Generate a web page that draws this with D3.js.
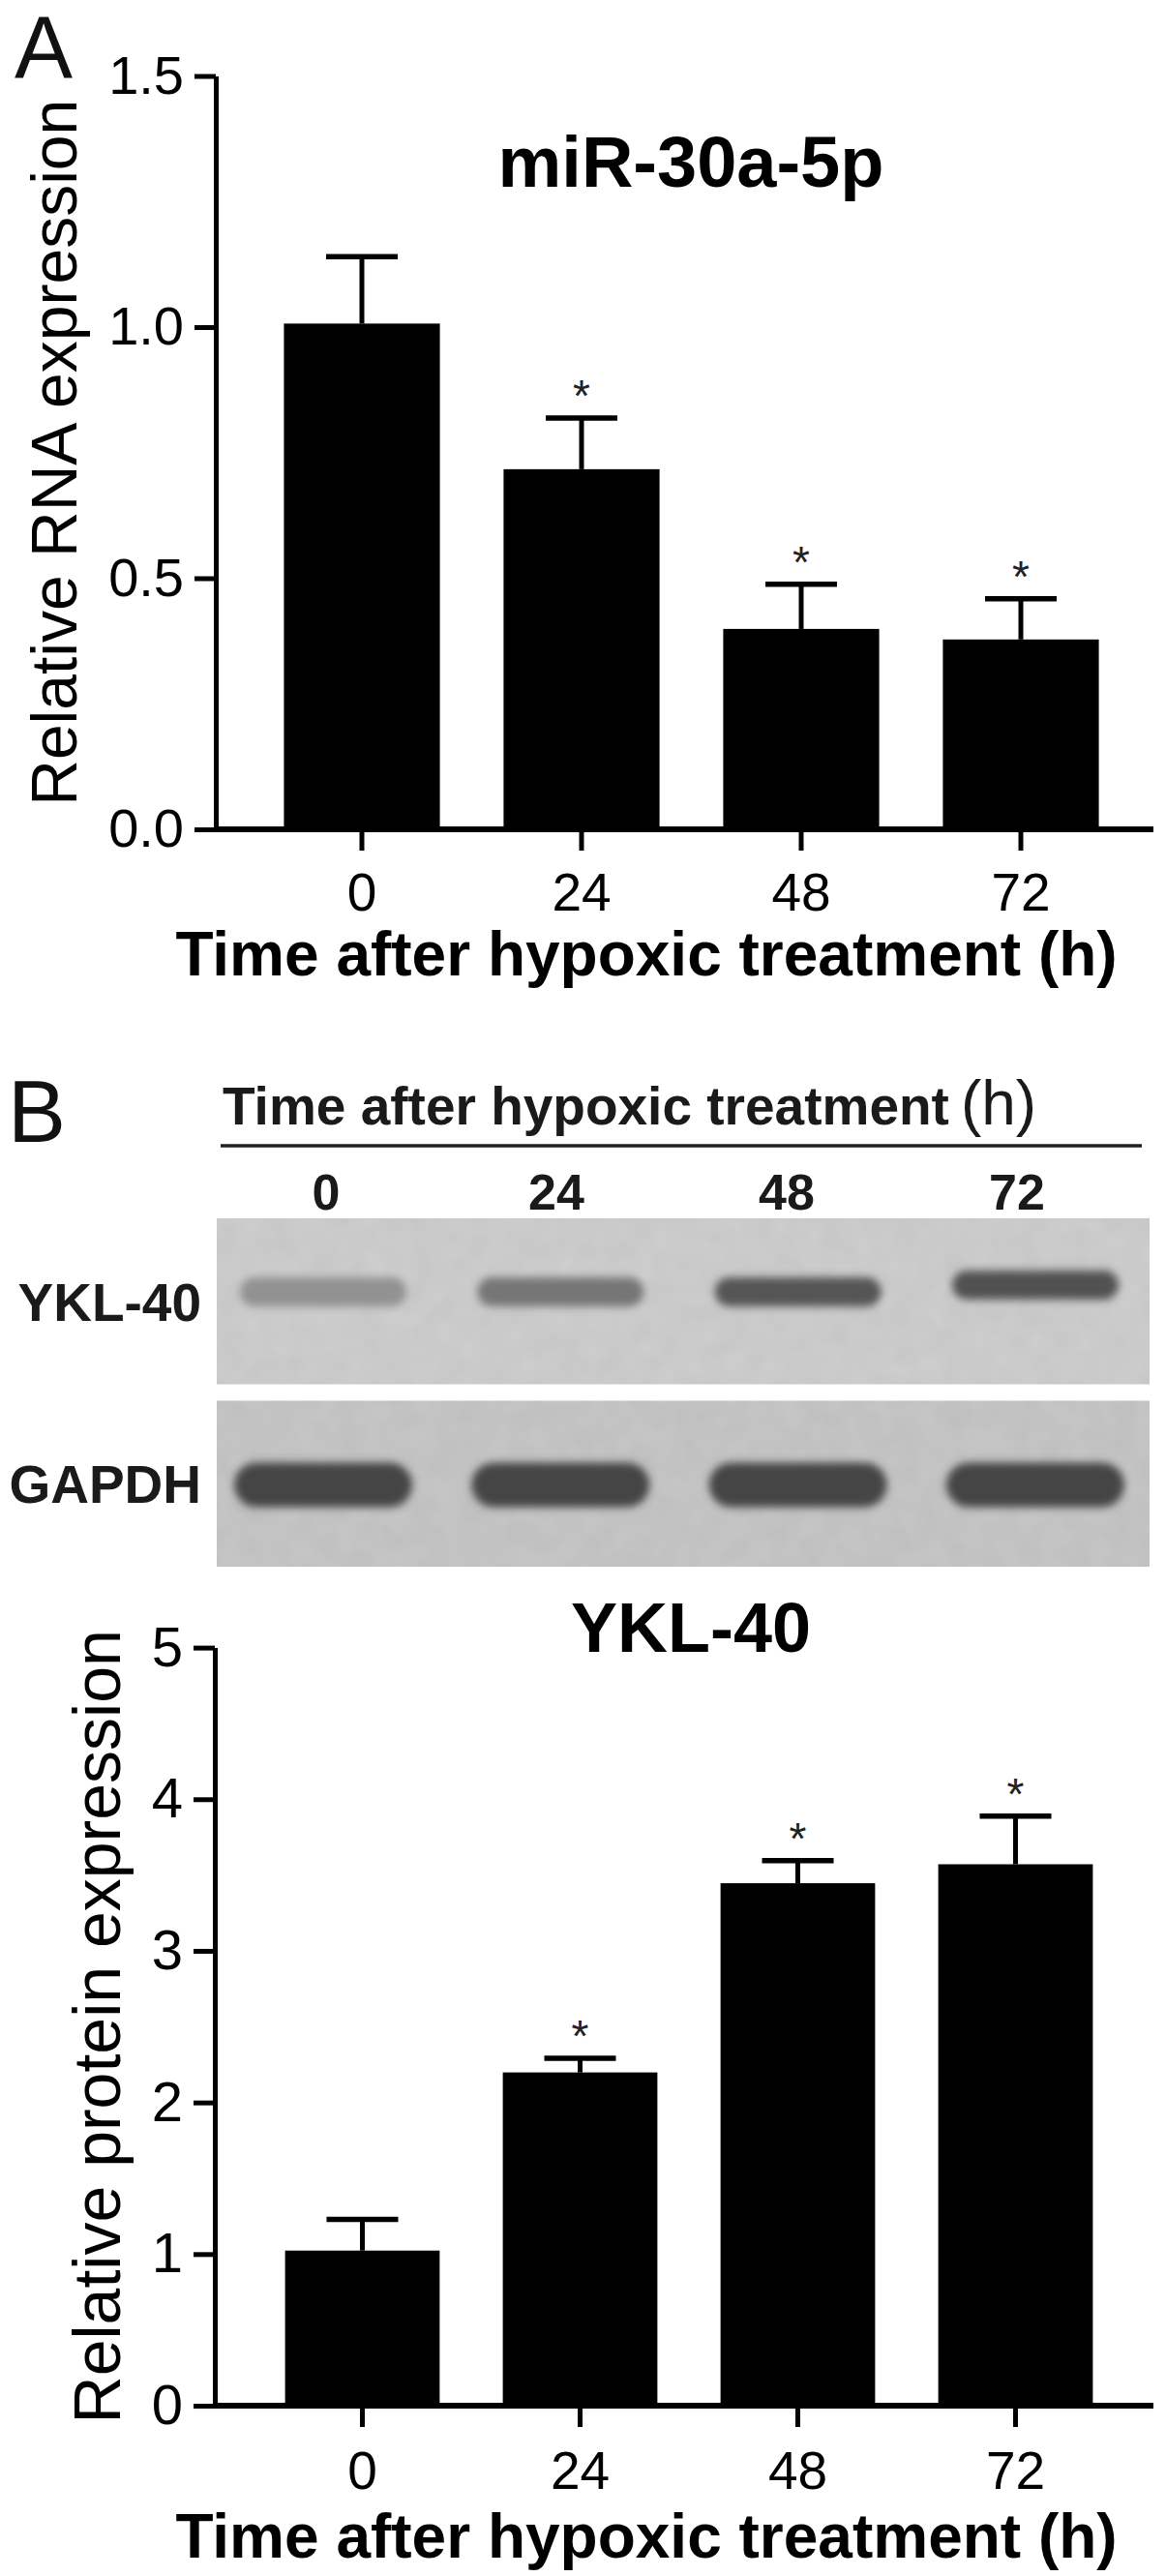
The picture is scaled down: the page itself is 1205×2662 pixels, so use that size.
<!DOCTYPE html>
<html>
<head>
<meta charset="utf-8">
<script src="https://cdn.jsdelivr.net/npm/d3@7"></script>
<style>
  html, body { margin: 0; padding: 0; background: #fff; }
  svg { display: block; }
</style>
</head>
<body>
<script>
// ---------------- DATA ----------------
const timepoints = ["0", "24", "48", "72"];

// Panel A: miR-30a-5p relative RNA expression
const mirMean = [1.007, 0.717, 0.399, 0.378];
const mirSem  = [0.133, 0.102, 0.089, 0.081];
const mirSig  = [false, true, true, true];
const mirTicks = [0, 0.5, 1.0, 1.5];

// Panel B: YKL-40 relative protein expression
const yklMean = [1.023, 2.198, 3.446, 3.571];
const yklSem  = [0.205, 0.093, 0.149, 0.317];
const yklSig  = [false, true, true, true];
const yklTicks = [0, 1, 2, 3, 4, 5];

// Western blot rows and estimated band darkness (0 = membrane, 1 = black)
const blotRows = ["YKL-40", "GAPDH"];
const yklBandDark   = [0.28, 0.42, 0.58, 0.60];
const gapdhBandDark = [0.66, 0.66, 0.66, 0.66];

// ---------------- SETUP ----------------
const W = 1205, H = 2662;
const FONT = "'Liberation Sans', Arial, Helvetica, sans-serif";
const svg = d3.select("body").append("svg")
  .attr("width", W).attr("height", H)
  .attr("font-family", FONT);
svg.append("rect").attr("width", W).attr("height", H).attr("fill", "#fff");

const defs = svg.append("defs");
defs.append("filter").attr("id", "bandBlur")
  .attr("x", "-20%").attr("y", "-60%").attr("width", "140%").attr("height", "220%")
  .append("feGaussianBlur").attr("stdDeviation", 4.5);
const tex = defs.append("filter").attr("id", "membrane")
  .attr("x", 0).attr("y", 0).attr("width", "100%").attr("height", "100%");
tex.append("feTurbulence").attr("type", "fractalNoise").attr("baseFrequency", 0.04)
  .attr("numOctaves", 2).attr("seed", 3).attr("result", "noise");
tex.append("feColorMatrix").attr("in", "noise").attr("type", "matrix")
  .attr("values", "0 0 0 0 0  0 0 0 0 0  0 0 0 0 0  0 0 0 0.10 0").attr("result", "shade");
tex.append("feComposite").attr("in", "shade").attr("in2", "SourceGraphic").attr("operator", "in").attr("result", "s2");
const fm = tex.append("feMerge");
fm.append("feMergeNode").attr("in", "SourceGraphic");
fm.append("feMergeNode").attr("in", "s2");

// ---------------- BAR PANEL ----------------
function barPanel(opt) {
  const g = svg.append("g");
  const x = d3.scaleBand().domain(timepoints).range(opt.xRange)
    .paddingInner(0.29).paddingOuter(0.145);
  const y = d3.scaleLinear().domain([0, opt.yMax]).range(opt.yRange);
  const cx = i => x(timepoints[i]) + x.bandwidth() / 2;

  // bars
  g.selectAll("rect.bar").data(opt.mean).join("rect")
    .attr("class", "bar")
    .attr("x", (d, i) => x(timepoints[i]))
    .attr("width", x.bandwidth())
    .attr("y", d => y(d))
    .attr("height", d => y(0) - y(d))
    .attr("fill", "#000");

  // error bars (upper only)
  const eb = g.selectAll("g.err").data(opt.mean).join("g").attr("class", "err");
  eb.append("line")
    .attr("x1", (d, i) => cx(i)).attr("x2", (d, i) => cx(i))
    .attr("y1", d => y(d)).attr("y2", (d, i) => y(d + opt.sem[i]))
    .attr("stroke", "#000").attr("stroke-width", 5);
  eb.append("line")
    .attr("x1", (d, i) => cx(i) - 37).attr("x2", (d, i) => cx(i) + 37)
    .attr("y1", (d, i) => y(d + opt.sem[i])).attr("y2", (d, i) => y(d + opt.sem[i]))
    .attr("stroke", "#000").attr("stroke-width", 5.5);

  // significance asterisks
  g.selectAll("text.sig").data(opt.mean).join("text")
    .attr("class", "sig")
    .attr("x", (d, i) => cx(i))
    .attr("y", (d, i) => y(d + opt.sem[i]) - 7)
    .attr("text-anchor", "middle")
    .attr("font-size", 46).attr("fill", "#222")
    .text((d, i) => opt.sig[i] ? "*" : "");

  // y axis
  const ya = d3.axisLeft(y).tickValues(opt.ticks).tickFormat(opt.fmt)
    .tickSize(22).tickPadding(11).tickSizeOuter(0);
  const yg = g.append("g").attr("transform", `translate(${opt.axisX},0)`).call(ya);
  yg.select(".domain").attr("stroke", "#000").attr("stroke-width", 5);
  yg.selectAll(".tick line").attr("stroke", "#000").attr("stroke-width", 5);
  yg.selectAll(".tick text").attr("font-size", opt.yTickFont).attr("fill", "#000")
    .attr("font-family", FONT);

  // x axis
  const xa = d3.axisBottom(x).tickSize(22).tickPadding(opt.xTickPad).tickSizeOuter(0);
  const xg = g.append("g").attr("transform", `translate(0,${y(0)})`).call(xa);
  xg.select(".domain").remove();
  xg.selectAll(".tick line").attr("stroke", "#000").attr("stroke-width", 5);
  xg.selectAll(".tick text").attr("font-size", 55).attr("fill", "#000")
    .attr("font-family", FONT);
  g.append("line")
    .attr("x1", opt.axisX).attr("x2", opt.xAxisEnd)
    .attr("y1", y(0)).attr("y2", y(0))
    .attr("stroke", "#000").attr("stroke-width", 6);

  // y label
  const yMid = (opt.yRange[0] + opt.yRange[1]) / 2;
  g.append("text")
    .attr("transform", `translate(${opt.yLabelX},${yMid}) rotate(-90)`)
    .attr("text-anchor", "middle")
    .attr("font-size", opt.yLabelFont).attr("fill", "#000")
    .text(opt.yLabel);

  // title
  g.append("text").attr("x", 714).attr("y", opt.titleY)
    .attr("text-anchor", "middle").attr("font-weight", "bold")
    .attr("font-size", opt.titleFont).attr("fill", "#000")
    .text(opt.title);

  // x title
  g.append("text").attr("x", 668).attr("y", opt.xTitleY)
    .attr("text-anchor", "middle").attr("font-weight", "bold")
    .attr("font-size", 64).attr("fill", "#000")
    .text("Time after hypoxic treatment (h)");
}

// ---------------- PANEL A ----------------
svg.append("text").attr("x", 15).attr("y", 80).attr("font-size", 90)
  .attr("fill", "#111").text("A");

barPanel({
  mean: mirMean, sem: mirSem, sig: mirSig, ticks: mirTicks,
  fmt: d3.format(".1f"), yMax: 1.5,
  xRange: [260.5, 1168.5], yRange: [857, 78.5],
  axisX: 223, xAxisEnd: 1192, xTickPad: 23, yTickFont: 56,
  yLabel: "Relative RNA expression", yLabelX: 79, yLabelFont: 66,
  title: "miR-30a-5p", titleY: 193, titleFont: 74,
  xTitleY: 1008
});

// ---------------- PANEL B: BLOT ----------------
svg.append("text").attr("x", 8).attr("y", 1180).attr("font-size", 90)
  .attr("fill", "#111").text("B");

const blot = svg.append("g");
blot.append("text").attr("x", 230).attr("y", 1162)
  .attr("font-weight", "bold").attr("font-size", 55).attr("fill", "#1a1a1a")
  .text("Time after hypoxic treatment")
  .append("tspan").attr("dx", 12).attr("font-weight", "normal").attr("font-size", 64)
  .text("(h)");
blot.append("line").attr("x1", 228).attr("x2", 1180).attr("y1", 1184).attr("y2", 1184)
  .attr("stroke", "#222").attr("stroke-width", 3.5);

const laneLabelX = d3.scalePoint().domain(timepoints).range([337, 1051]);
blot.selectAll("text.lane").data(timepoints).join("text")
  .attr("class", "lane")
  .attr("x", d => laneLabelX(d)).attr("y", 1250)
  .attr("text-anchor", "middle").attr("font-weight", "bold")
  .attr("font-size", 52).attr("fill", "#1a1a1a").text(d => d);

const rowY = d3.scaleBand().domain(blotRows).range([1259, 1619]).paddingInner(0.09);
const laneX = d3.scalePoint().domain(timepoints).range([334, 1070]);
const shade = v => d3.interpolateRgb("#cbcbcb", "#000")(v);

blotRows.forEach((row, r) => {
  const y0 = rowY(row), h = rowY.bandwidth();
  blot.append("rect").attr("x", 224).attr("y", y0).attr("width", 964).attr("height", h)
    .attr("fill", r === 0 ? "#cfcfcf" : "#c7c7c7").attr("filter", "url(#membrane)");
  blot.append("text").attr("x", 208).attr("y", y0 + h / 2 + 20)
    .attr("text-anchor", "end").attr("font-weight", "bold")
    .attr("font-size", 55).attr("fill", "#1a1a1a").text(row);
  const dark = r === 0 ? yklBandDark : gapdhBandDark;
  const bw = r === 0 ? 172 : 184;
  const bh = r === 0 ? 30 : 46;
  const yc = y0 + (r === 0 ? 76 : 87);
  blot.selectAll(null).data(dark).join("rect")
    .attr("x", (d, i) => laneX(timepoints[i]) - bw / 2)
    .attr("y", (d, i) => yc - bh / 2 - (r === 0 && i === 3 ? 7 : 0))
    .attr("width", bw).attr("height", bh)
    .attr("rx", bh / 2).attr("ry", bh / 2)
    .attr("fill", d => shade(d)).attr("filter", "url(#bandBlur)");
});

// ---------------- PANEL B: BAR CHART ----------------
barPanel({
  mean: yklMean, sem: yklSem, sig: yklSig, ticks: yklTicks,
  fmt: d3.format("d"), yMax: 5,
  xRange: [262, 1162], yRange: [2486, 1702.6],
  axisX: 222, xAxisEnd: 1192, xTickPad: 25, yTickFont: 58,
  yLabel: "Relative protein expression", yLabelX: 124, yLabelFont: 68,
  title: "YKL-40", titleY: 1707, titleFont: 72,
  xTitleY: 2643
});
</script>
</body>
</html>
